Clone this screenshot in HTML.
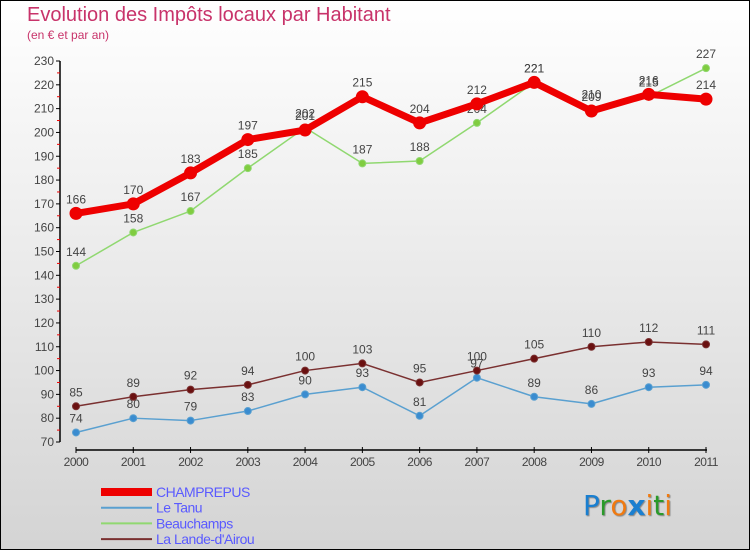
<!DOCTYPE html>
<html><head><meta charset="utf-8"><style>
body{margin:0}
#wrap{position:relative;width:748px;height:548px;border:1px solid #000;background:linear-gradient(#ffffff,#d4d4d4);font-family:"Liberation Sans",sans-serif;overflow:hidden}
.t{position:absolute;color:#c8336a}
</style></head><body>
<div id="wrap">
<div class="t" style="left:26px;top:3px;font-size:20px;">Evolution des Impôts locaux par Habitant</div>
<div class="t" style="left:26px;top:27px;font-size:12px;">(en € et par an)</div>
<svg id="chart" width="748" height="548" style="position:absolute;left:0;top:0"></svg>
<div style="position:absolute;left:582px;top:488px;font-size:28px;font-family:'DejaVu Sans',sans-serif;text-shadow:1px 1px 1px #888"><span style="color:#1a7fd0">P</span><span style="color:#2a9a2a">r</span><span style="color:#f07a10">o</span><span style="color:#1a7fd0;font-weight:bold">x</span><span style="color:#f07a10">i</span><span style="color:#2a9a2a">t</span><span style="color:#f07a10">i</span></div>
</div>
<script>
const years=[2000,2001,2002,2003,2004,2005,2006,2007,2008,2009,2010,2011];
const yTicks=[70,80,90,100,110,120,130,140,150,160,170,180,190,200,210,220,230];
const champrepus=[166,170,183,197,201,215,204,212,221,209,216,214];
const leTanu=[74,80,79,83,90,93,81,97,89,86,93,94];
const beauchamps=[144,158,167,185,202,187,188,204,221,210,215,227];
const laLande=[85,89,92,94,100,103,95,100,105,110,112,111];
const NS='http://www.w3.org/2000/svg';
const svg=document.getElementById('chart');
const x=i=>75+i*(630/11);
const y=v=>441-(v-70)*(381/160);
function el(t,a,p){const e=document.createElementNS(NS,t);for(const k in a)e.setAttribute(k,a[k]);(p||svg).appendChild(e);return e;}
let ax=el('line',{x1:59,y1:60,x2:59,y2:441,stroke:'#000','stroke-width':1.5});


let bx=el('line',{x1:75,y1:449,x2:706,y2:449,stroke:'#000','stroke-width':1.5});


yTicks.forEach(v=>{
 el('line',{x1:55,y1:y(v),x2:59,y2:y(v),stroke:'#000'});
 if(v<230){el('line',{x1:56,y1:y(v+5),x2:59,y2:y(v+5),stroke:'#e00'});}
 const t=el('text',{x:53,y:y(v)+4,'text-anchor':'end','font-size':12,fill:'#444'});
 t.textContent=v;
 
 
});
years.forEach((yr,i)=>{
 el('line',{x1:x(i),y1:446,x2:x(i),y2:452,stroke:'#000'});
 const t=el('text',{x:x(i),y:465,'text-anchor':'middle','font-size':12,fill:'#444','letter-spacing':'-0.5'});
 t.textContent=yr;
 
 
});
function series(data,color,w,r,dot,name){
 const g=el('g',{});
 
 
 el('polyline',{points:data.map((v,i)=>x(i)+','+y(v)).join(' '),fill:'none',stroke:color,'stroke-width':w,'stroke-linejoin':'round'},g);
 data.forEach((v,i)=>{
  const c=el('circle',{cx:x(i),cy:y(v),r:r,fill:dot,stroke:color,'stroke-width':1},g);
  
  
  const t=el('text',{x:x(i),y:y(v)-10,'text-anchor':'middle','font-size':12,fill:'#444'},g);
  t.textContent=v;
  
  
 });
}
series(leTanu,'#5aa0d0',1.5,3.5,'#3a8cd0','le-tanu');
series(laLande,'#7a3030',1.5,3.5,'#6a1010','la-lande');
series(beauchamps,'#90d870',1.5,3.5,'#80cc40','beauchamps');
series(champrepus,'#ee0000',7,6,'#ee0000','champrepus');
const leg=[['CHAMPREPUS','#ee0000',8],['Le Tanu','#5aa0d0',2],['Beauchamps','#90d870',2],['La Lande-d\'Airou','#7a3030',2]];
leg.forEach((l,i)=>{
 const yy=491+i*15.7;
 const g=el('g',{});
 
 
 el('line',{x1:100,y1:yy,x2:151,y2:yy,stroke:l[1],'stroke-width':l[2]},g);
 const t=el('text',{x:155,y:yy+5,'font-size':14,fill:'#5a5aff','letter-spacing':'-0.5'},g);
 t.textContent=l[0];
});
</script>
</body></html>
